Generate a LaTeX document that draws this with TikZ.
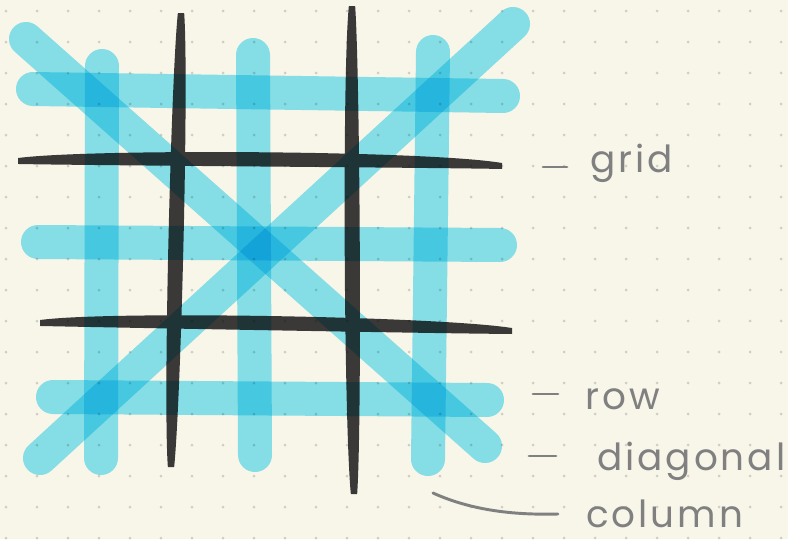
\documentclass[tikz,border=0pt]{standalone}
\usepackage{fontspec}
\usepackage{tikz}
\usetikzlibrary{calc}
\newfontfamily\hand{Poppins}[LetterSpace=8]
\definecolor{paper}{RGB}{248,245,233}
\definecolor{dotc}{RGB}{208,206,196}
\definecolor{marker}{RGB}{137,231,251}
\definecolor{ink}{RGB}{60,60,62}
\definecolor{pencil}{RGB}{128,128,128}
% tapered pen line: tips #1,#4, controls #2,#3, sideways offset #5
\newcommand\inkstroke[5]{%
  ($(#1)+0.35*(#5)$) .. controls ($(#2)+(#5)$) and ($(#3)+(#5)$) .. ($(#4)+0.35*(#5)$)
    -- ($(#4)-0.35*(#5)$) .. controls ($(#3)-(#5)$) and ($(#2)-(#5)$) .. ($(#1)-0.35*(#5)$) -- cycle}

\begin{document}
\begin{tikzpicture}[x=0.75pt, y=-0.75pt,
  hi/.style={marker, line width=25.5pt, line cap=round},
  lab/.style={pencil, font=\hand\fontsize{28}{32}\selectfont, inner sep=0pt, anchor=base west},
  tick/.style={pencil, line width=2.2pt, line cap=round}]
% paper
\fill[paper] (0,0) rectangle (788,539);
\useasboundingbox (0,0) rectangle (788,539);
\foreach \i in {0,...,25}
  \foreach \j in {0,...,17}
    \fill[dotc] (6+31*\i,11+31*\j) circle (1.5);

\begin{scope}[blend mode=multiply]
% highlighter: rows, columns, diagonals
\foreach \a/\b in {{33,89}/{503,96}, {38,242}/{500,245}, {53,397}/{487,400},
                   {102,66}/{101,458}, {253,55}/{255,455}, {433,52}/{428,459},
                   {26,39}/{485,446}, {40,458}/{513,24}}
  \draw[hi] (\a) -- (\b);

% pen grid, one path so the crossings stay flat
\fill[ink]
  \inkstroke{181,13}{180,80}{172,400}{171,467}{9,0}
  \inkstroke{352,6}{351,75}{353,425}{354,494}{9,0}
  \inkstroke{18,161}{90,157}{430,159}{502,166}{0,-8.5}
  \inkstroke{40,323}{110,319}{440,325}{512,331}{0,-8.5};
\end{scope}

% labels
\node[lab] (lgrid) at (590,172) {grid};
\node[lab] (lrow) at (585,409) {row};
\node[lab] (ldiag) at (597,470) {diagonal};
\node[lab] (lcol) at (586,527) {column};

\draw[tick] ($(lgrid.base west)+(-47,-5)$) -- ($(lgrid.base west)+(-23,-5)$);
\draw[tick] ($(lrow.base west)+(-52,-15)$) -- ($(lrow.base west)+(-27,-15)$);
\draw[tick] ($(ldiag.base west)+(-68,-14)$) -- ($(ldiag.base west)+(-41,-14)$);
\coordinate (colend) at (433,493);
\draw[tick] (colend) .. controls (475,512) and (520,515) .. ($(lcol.base west)+(-28,-13)$);
\end{tikzpicture}
\end{document}
